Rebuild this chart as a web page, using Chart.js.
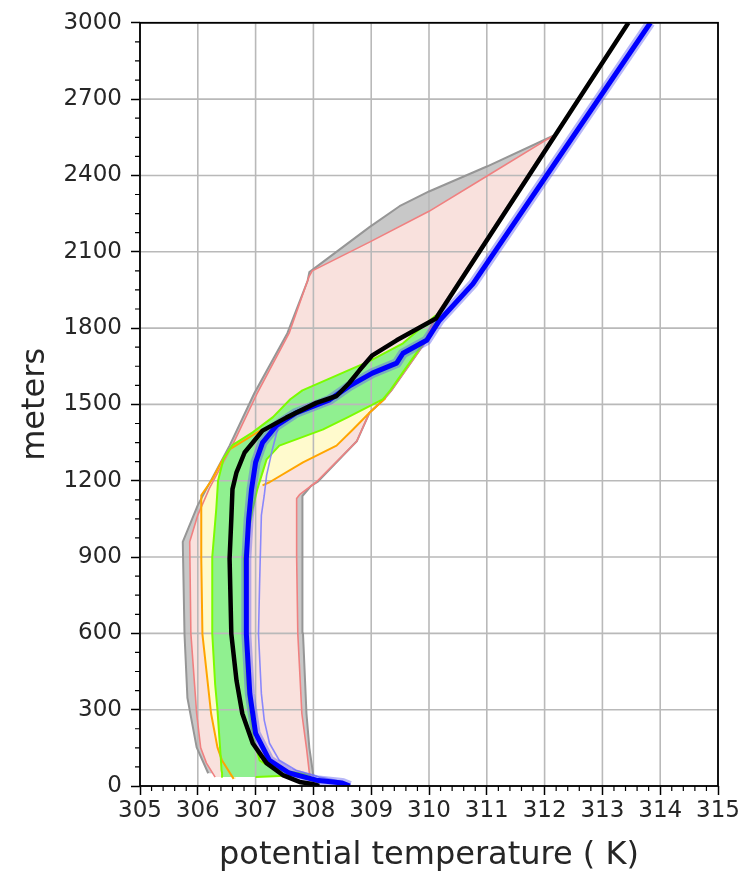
<!DOCTYPE html>
<html><head><meta charset="utf-8">
<script src="https://cdn.jsdelivr.net/npm/chart.js@4.4.1/dist/chart.umd.min.js"></script>
<style>html,body{margin:0;padding:0;background:#fff;}canvas{display:block;}</style>
</head><body>
<canvas id="c" width="745" height="875" style="width:745px;height:875px"></canvas>
<script>
// ---- axis ticks ----
const xTickValues = [305, 306, 307, 308, 309, 310, 311, 312, 313, 314, 315];
const yTickValues = [0, 300, 600, 900, 1200, 1500, 1800, 2100, 2400, 2700, 3000];

// ---- grey envelope ----
const greyLeftZ = [50, 152, 347, 597, 960, 1104, 1338, 1545, 1780, 1986, 2020, 2197, 2279, 2337, 2435, 2556];
const greyLeftT = [306.18, 305.98, 305.82, 305.77, 305.74, 306.0, 306.55, 306.98, 307.55, 307.9, 307.93, 308.97, 309.49, 310.0, 311.0, 312.15];
const greyRightZ = [40, 150, 285, 600, 900, 1140, 1180, 1195, 1355, 1467, 1520, 1555, 1662, 1740, 1840, 2556];
const greyRightT = [308.0, 307.93, 307.88, 307.82, 307.81, 307.81, 307.96, 308.07, 308.75, 308.97, 309.22, 309.35, 309.68, 309.92, 310.1, 312.15];

// ---- pink envelope ----
const pinkLeftZ = [35, 90, 150, 285, 600, 960, 1065, 1170, 1340, 1540, 1780, 2000, 2025, 2138, 2259, 2396, 2540, 2560];
const pinkLeftT = [306.3, 306.15, 306.05, 305.98, 305.88, 305.86, 306.0, 306.2, 306.6, 307.02, 307.58, 307.92, 307.98, 308.97, 310.0, 310.99, 312.03, 312.2];
const pinkRightZ = [35, 51, 150, 285, 600, 900, 1130, 1145, 1195, 1355, 1467, 1520, 1555, 1662, 1740, 1840, 2560];
const pinkRightT = [307.95, 307.93, 307.88, 307.8, 307.73, 307.71, 307.71, 307.76, 308.05, 308.75, 308.97, 309.22, 309.35, 309.68, 309.92, 310.1, 312.2];

// ---- yellow envelope ----
const yellowLeftZ = [28, 100, 152, 285, 597, 894, 1143, 1206, 1270, 1323, 1400, 1467, 1525];
const yellowLeftT = [306.62, 306.42, 306.34, 306.23, 306.08, 306.06, 306.06, 306.25, 306.4, 306.55, 307.1, 307.9, 309.22];
const yellowRightZ = [28, 100, 300, 600, 900, 1143, 1182, 1194, 1272, 1338, 1400, 1467, 1525];
const yellowRightT = [306.66, 306.65, 306.62, 306.6, 306.58, 306.6, 307.12, 307.24, 307.82, 308.4, 308.68, 308.97, 309.25];

// ---- green envelope ----
const greenLeftZ = [35, 51, 62, 101, 200, 300, 400, 600, 900, 1090, 1200, 1290, 1340, 1390, 1450, 1520, 1555, 1670, 1740, 1850];
const greenLeftT = [306.43, 306.42, 306.41, 306.4, 306.37, 306.34, 306.3, 306.25, 306.25, 306.32, 306.35, 306.45, 306.6, 306.95, 307.3, 307.6, 307.81, 308.97, 309.55, 310.12];
const greenRightZ = [35, 44, 60, 75, 101, 200, 300, 400, 600, 900, 1090, 1167, 1284, 1338, 1401, 1450, 1520, 1555, 1662, 1740, 1850];
const greenRightT = [307.0, 307.93, 307.5, 307.25, 307.07, 306.95, 306.9, 306.85, 306.82, 306.8, 306.95, 307.03, 307.19, 307.41, 308.16, 308.6, 309.2, 309.33, 309.66, 309.9, 310.2];

// ---- blue members ----
const blueZ = [0, 12, 23, 51, 101, 207, 363, 597, 894, 1050, 1167, 1272, 1350, 1416, 1467, 1518, 1572, 1623, 1662, 1701, 1752, 1830, 1974, 3000];
const blueT = [308.63, 308.5, 308.05, 307.58, 307.24, 307.0, 306.9, 306.84, 306.84, 306.88, 306.93, 307.0, 307.12, 307.36, 307.7, 308.28, 308.62, 309.02, 309.44, 309.55, 309.96, 310.18, 310.76, 313.83];
const blueOuterZ = [0, 20, 35, 62, 101, 168, 258, 363, 597, 804, 1065, 1143, 1221, 1323, 1420];
const blueOuterT = [308.6, 308.45, 308.1, 307.7, 307.41, 307.24, 307.15, 307.1, 307.05, 307.07, 307.1, 307.15, 307.19, 307.29, 307.4];

// ---- black reference profile ----
const blackZ = [0, 8, 16, 43, 90, 168, 285, 414, 597, 894, 1050, 1167, 1233, 1311, 1397, 1448, 1506, 1533, 1584, 1635, 1693, 1752, 1838, 3000];
const blackT = [308.1, 307.98, 307.76, 307.47, 307.19, 306.95, 306.77, 306.67, 306.58, 306.55, 306.58, 306.6, 306.67, 306.81, 307.12, 307.53, 308.05, 308.4, 308.62, 308.8, 309.02, 309.44, 310.12, 313.45];

// ---- helpers ----
function pts(T, Z) { return T.map((t, i) => ({x: t, y: Z[i]})); }
function polygon(TL, ZL, TR, ZR) { return pts(TL, ZL).concat(pts(TR, ZR).reverse()); }

const GRID = '#b9b9b9';
const ORANGE = 'rgb(255,165,0)';

function fillSet(data, color) {
  return {data, showLine: true, fill: 'shape', backgroundColor: color, borderWidth: 0, borderColor: 'rgba(0,0,0,0)', pointRadius: 0, clip: 0};
}
function lineSet(data, color, width, extra) {
  return Object.assign({data, showLine: true, fill: false, borderColor: color, borderWidth: width, pointRadius: 0, clip: 0, backgroundColor: color}, extra || {});
}

const layers = [
  fillSet(polygon(greyLeftT, greyLeftZ, greyRightT, greyRightZ), 'rgb(200,200,200)'),
  fillSet(polygon(pinkLeftT, pinkLeftZ, pinkRightT, pinkRightZ), 'rgb(249,225,221)'),
  fillSet(polygon(yellowLeftT, yellowLeftZ, yellowRightT, yellowRightZ), 'rgb(255,250,205)'),
  fillSet(polygon(greenLeftT, greenLeftZ, greenRightT, greenRightZ), 'rgb(144,240,144)'),
  lineSet(pts(greyLeftT, greyLeftZ), 'rgb(150,150,150)', 2, {gridBefore: true}),
  lineSet(pts(greyRightT, greyRightZ), 'rgb(150,150,150)', 2),
  lineSet(pts(pinkLeftT, pinkLeftZ), 'rgb(240,128,128)', 1.6),
  lineSet(pts(pinkRightT, pinkRightZ), 'rgb(240,128,128)', 1.6),
  lineSet(pts(yellowLeftT, yellowLeftZ), ORANGE, 2, {segment: {borderColor: c => c.p0.parsed.y >= 1340 ? 'rgba(0,0,0,0)' : ORANGE}}),
  lineSet(pts(yellowRightT, yellowRightZ), ORANGE, 2, {segment: {borderColor: c => c.p0.parsed.y < 1182 ? 'rgba(0,0,0,0)' : ORANGE}}),
  lineSet(pts(greenLeftT, greenLeftZ), 'rgb(124,252,0)', 2),
  lineSet(pts(greenRightT, greenRightZ), 'rgb(124,252,0)', 2),
  lineSet(pts(blueOuterT, blueOuterZ), 'rgba(125,125,255,0.9)', 1.6),
  lineSet(pts(blueT, blueZ), 'rgba(95,95,240,0.45)', 10),
  lineSet(pts(blueT, blueZ), 'rgb(0,0,255)', 5),
  lineSet(pts(blackT, blackZ), 'rgb(0,0,0)', 4.5)
];
layers.forEach((d, i) => { d.order = layers.length - i; });

const mplPlugin = {
  id: 'mpl',
  beforeDatasetDraw(chart, args) {
    if (!chart.data.datasets[args.index].gridBefore) return;
    const {ctx, chartArea: a, scales: {x, y}} = chart;
    ctx.save();
    ctx.strokeStyle = GRID; ctx.lineWidth = 1.6;
    ctx.beginPath();
    x.ticks.forEach(t => { const p = x.getPixelForValue(t.value); ctx.moveTo(p, a.top); ctx.lineTo(p, a.bottom); });
    y.ticks.forEach(t => { const p = y.getPixelForValue(t.value); ctx.moveTo(a.left, p); ctx.lineTo(a.right, p); });
    ctx.stroke();
    ctx.restore();
  },
  afterDatasetsDraw(chart) {
    const {ctx, chartArea: a, scales: {x, y}} = chart;
    ctx.save();
    ctx.strokeStyle = '#000'; ctx.lineWidth = 1.2;
    ctx.beginPath();
    for (let i = 0; i <= 50; i++) {
      if (i % 5 === 0) continue;
      const p = x.getPixelForValue(305 + i * 0.2);
      ctx.moveTo(p, a.bottom); ctx.lineTo(p, a.bottom + 5);
    }
    for (let i = 0; i <= 40; i++) {
      if (i % 4 === 0) continue;
      const p = y.getPixelForValue(i * 75);
      ctx.moveTo(a.left - 5, p); ctx.lineTo(a.left, p);
    }
    ctx.stroke();
    ctx.lineWidth = 1.8;
    ctx.strokeRect(a.left, a.top, a.right - a.left, a.bottom - a.top);
    ctx.restore();
  }
};

const tickFont = {family: 'DejaVu Sans', size: 23};
const titleFont = {family: 'DejaVu Sans', size: 32};

new Chart(document.getElementById('c'), {
  type: 'scatter',
  data: {datasets: layers},
  options: {
    responsive: false,
    animation: false,
    devicePixelRatio: 1,
    events: [],
    layout: {padding: {top: 17, right: 27, left: 0, bottom: 0}},
    elements: {point: {radius: 0}, line: {tension: 0, borderJoinStyle: 'round'}},
    plugins: {legend: {display: false}, tooltip: {enabled: false}},
    scales: {
      x: {
        type: 'linear', min: 305, max: 315,
        afterBuildTicks: s => { s.ticks = xTickValues.map(v => ({value: v})); },
        afterFit: s => { s.height = 89; },
        ticks: {font: tickFont, color: '#262626', padding: 2, maxRotation: 0, autoSkip: false, callback: v => String(v)},
        grid: {drawOnChartArea: false, drawTicks: true, tickLength: 9, color: '#000', tickColor: '#000', tickWidth: 1.5},
        border: {display: false},
        title: {display: true, text: 'potential temperature ( K)', font: titleFont, color: '#262626', padding: {top: 0, bottom: 0}}
      },
      y: {
        type: 'linear', min: 0, max: 3000,
        afterBuildTicks: s => { s.ticks = yTickValues.map(v => ({value: v})); },
        afterFit: s => { s.width = 140; },
        ticks: {font: tickFont, color: '#262626', padding: 9, autoSkip: false, callback: v => String(v)},
        grid: {drawOnChartArea: false, drawTicks: true, tickLength: 9, color: '#000', tickColor: '#000', tickWidth: 1.5},
        border: {display: false},
        title: {display: true, text: 'meters', font: titleFont, color: '#262626', padding: {top: 16, bottom: 0}}
      }
    }
  },
  plugins: [mplPlugin]
});
</script>
</body></html>
